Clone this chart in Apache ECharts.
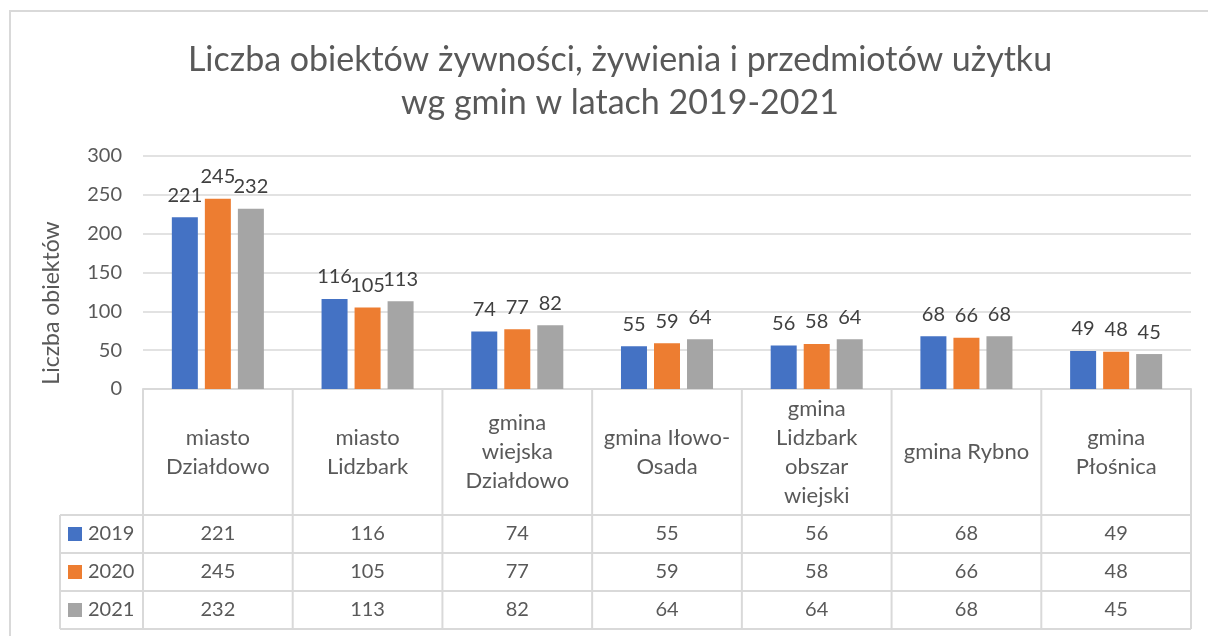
<!DOCTYPE html>
<html>
<head>
<meta charset="utf-8">
<script src="https://cdn.jsdelivr.net/npm/echarts@6/dist/echarts.min.js"></script>
<style>
  html, body { margin: 0; padding: 0; background: #fff; }
  #main { width: 1208px; height: 636px; }
</style>
</head>
<body>
<div id="main"></div>
<script>
// dane z wykresu
var categories = ['miasto\nDziałdowo', 'miasto\nLidzbark', 'gmina\nwiejska\nDziałdowo', 'gmina Iłowo-\nOsada',
  'gmina\nLidzbark\nobszar\nwiejski', 'gmina Rybno', 'gmina\nPłośnica'];
var years = ['2019', '2020', '2021'];
var y2019 = [221, 116, 74, 55, 56, 68, 49];
var y2020 = [245, 105, 77, 59, 58, 66, 48];
var y2021 = [232, 113, 82, 64, 64, 68, 45];
var yTicks = [0, 300, 50]; // min, max, interval

var colors = ['#4472C4', '#ED7D31', '#A5A5A5'];
var font = 'Lato, "Noto Sans", sans-serif';
var lineCol = '#d9d9d9';

var chart = echarts.init(document.getElementById('main'));

function barSeries(name, data, i) {
  return {
    name: name,
    type: 'bar',
    data: data,
    barWidth: 26,
    barGap: '27%',
    itemStyle: { color: colors[i] },
    label: {
      show: true,
      position: 'top',
      distance: 12,
      fontSize: 20,
      fontFamily: font,
      color: '#404040'
    }
  }
}

var option = {
  animation: false,
  title: {
    text: 'Liczba obiektów żywności, żywienia i przedmiotów użytku\nwg gmin w latach 2019-2021',
    left: 615,
    top: 34,
    textAlign: 'center',
    textStyle: {
      fontFamily: font,
      fontSize: 34,
      fontWeight: 'normal',
      color: '#595959',
      lineHeight: 43
    }
  },
  grid: { left: 143, right: 17, top: 156, bottom: 247 },
  xAxis: {
    type: 'category',
    data: categories,
    axisLine: { show: true, lineStyle: { color: lineCol, width: 2 } },
    axisTick: { show: false },
    axisLabel: {
      interval: 0,
      margin: 63,
      verticalAlign: 'middle',
      lineHeight: 29,
      fontSize: 22,
      fontFamily: font,
      color: '#595959'
    }
  },
  yAxis: {
    type: 'value',
    min: yTicks[0],
    max: yTicks[1],
    interval: yTicks[2],
    axisLine: { show: false },
    axisTick: { show: false },
    axisLabel: { fontSize: 20, fontFamily: font, color: '#595959', margin: 21 },
    splitLine: { lineStyle: { color: lineCol, width: 1.5 } }
  },
  series: [
    barSeries(years[0], y2019, 0),
    barSeries(years[1], y2020, 1),
    barSeries(years[2], y2021, 2)
  ]
};
chart.setOption(option);

// tabela danych pod wykresem
var rows = [y2019, y2020, y2021];
var axisY = 389, headBottom = 515, rowH = 38, legLeft = 60;
var tableBottom = headBottom + rowH * rows.length;
var xs = [];
for (var i = 0; i < categories.length; i++) {
  xs.push(chart.convertToPixel({ xAxisIndex: 0 }, i));
}
var half = (xs[1] - xs[0]) / 2;
var bounds = [xs[0] - half];
xs.forEach(function (x) { bounds.push(x + half); });
var right = bounds[bounds.length - 1];

var g = [];
function line(x1, y1, x2, y2) {
  g.push({ type: 'line', shape: { x1: x1, y1: y1, x2: x2, y2: y2 }, style: { stroke: lineCol, lineWidth: 2 }, silent: true });
}
// ramka wykresu
g.push({ type: 'rect', shape: { x: 10, y: 11, width: 1220, height: 640 }, style: { fill: null, stroke: lineCol, lineWidth: 2 } });
bounds.forEach(function (b) { line(b, axisY, b, tableBottom); });
line(legLeft, headBottom, legLeft, tableBottom);
for (var r = 0; r <= rows.length; r++) {
  line(legLeft, headBottom + r * rowH, right, headBottom + r * rowH);
}
rows.forEach(function (row, r) {
  var cy = headBottom + r * rowH + rowH / 2;
  g.push({ type: 'rect', shape: { x: 68, y: cy - 7, width: 14, height: 14 }, style: { fill: colors[r] } });
  g.push({ type: 'text', x: 88, y: cy, style: { text: years[r], fontSize: 20, fontFamily: font, fill: '#595959', verticalAlign: 'middle' } });
  row.forEach(function (v, i) {
    g.push({ type: 'text', x: xs[i], y: cy, style: { text: String(v), fontSize: 20, fontFamily: font, fill: '#595959', align: 'center', verticalAlign: 'middle' } });
  });
});
// tytuł osi Y
g.push({ type: 'text', x: 52, y: 303, rotation: Math.PI / 2, style: { text: 'Liczba obiektów', fontSize: 23, fontFamily: font, fill: '#595959', align: 'center', verticalAlign: 'middle' } });

chart.setOption({ graphic: g });
</script>
</body>
</html>
